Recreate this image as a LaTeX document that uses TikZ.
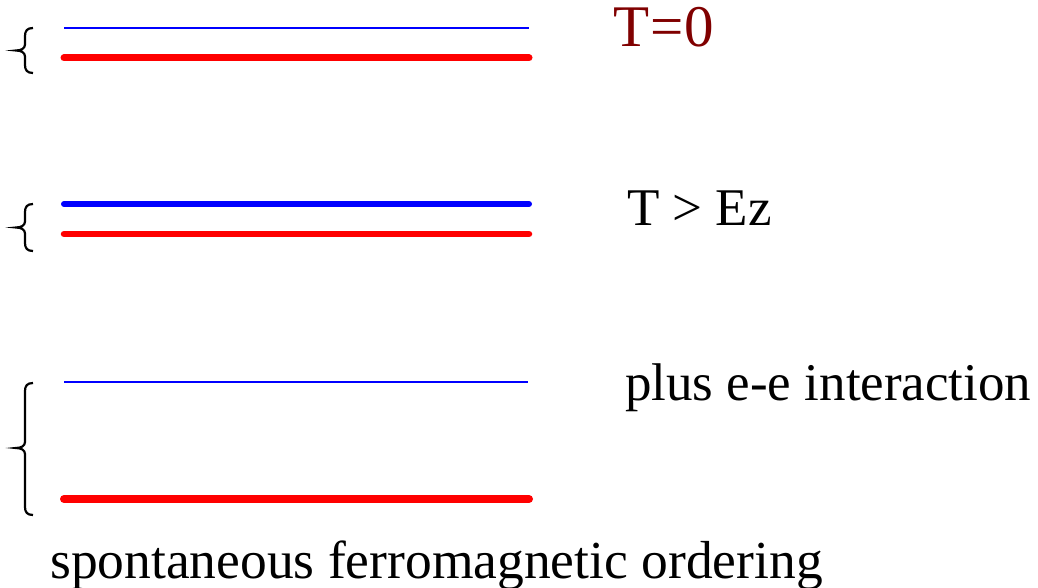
\documentclass[tikz,border=0pt]{standalone}
\usepackage{fontspec}
\setmainfont{Liberation Serif}
\definecolor{darkred}{RGB}{128,0,0}
\definecolor{lblue}{RGB}{0,0,255}
\definecolor{lred}{RGB}{255,0,0}
\begin{document}
\begin{tikzpicture}[x=1pt,y=-1pt,
  lab/.style={anchor=base west,inner sep=0pt,font=\fontsize{53}{60}\selectfont},
  thinblue/.style={draw=lblue,line width=2pt},
  thickblue/.style={draw=lblue,line width=6pt,line cap=round},
  thickred/.style={draw=lred,line width=7pt,line cap=round},
  bracepath/.style={draw=black,line width=2.2pt}]
\useasboundingbox (0,0) rectangle (1038,588);
% level lines
\draw[thinblue] (64,28) -- (529,28);
\draw[thickred] (64,58) -- (529,58);
\draw[thickblue] (64,204) -- (529,204);
\draw[thickred,line width=6.5pt] (64,234) -- (529,234);
\draw[thinblue] (64,382) -- (528,382);
\draw[thickred,line width=8pt] (64,499) -- (529,499);
% braces
\foreach \t/\m/\b in {28/50.5/73, 204/227.5/251, 383/448/515}{
  \draw[bracepath] (33,\t) .. controls (27,\t) and (25,\t+3) .. (25,\t+8)
    -- (25,\m-6) .. controls (25,\m-2) and (21,\m) .. (16,\m)
    .. controls (21,\m) and (25,\m+2) .. (25,\m+6)
    -- (25,\b-8) .. controls (25,\b-3) and (27,\b) .. (33,\b);
}
% labels
\node[lab,text=darkred,font=\fontsize{59}{64}\selectfont] (t0) at (613,47) {T\kern1pt=\kern1pt0};
\node[lab] (tez) at (627,225) {T > Ez};
\node[lab] (plus) at (625,400) {plus e-e interaction};
\node[lab,font=\fontsize{53.5}{60}\selectfont] (spont) at (50,578) {spontaneous ferromagnetic ordering};
\end{tikzpicture}
\end{document}
